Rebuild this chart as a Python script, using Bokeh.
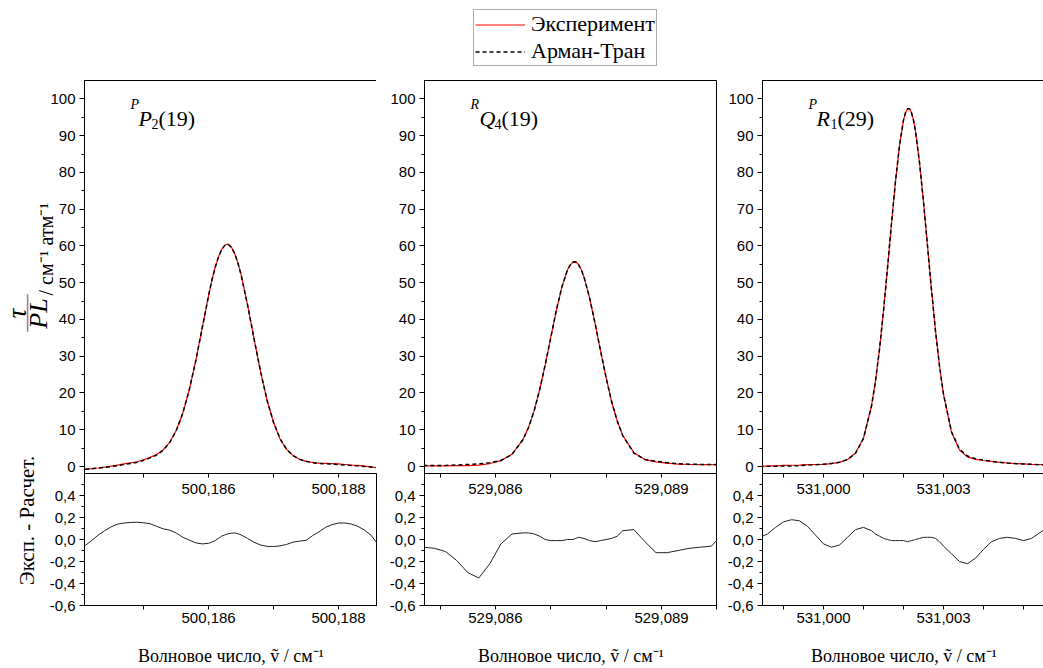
from math import pi

from bokeh.embed import file_html
from bokeh.layouts import column, row
from bokeh.models import (ColumnDataSource, CustomJSTickFormatter, FixedTicker, Label,
                          Legend, LegendItem, PolyAnnotation, Range1d)
from bokeh.plotting import figure
from bokeh.resources import INLINE

# ---------------------------------------------------------------- data
# line PP2(19)
pp2_wn = [500.1841, 500.1842, 500.1843, 500.1844, 500.1845, 500.1846, 500.1847, 500.1848,
          500.1849, 500.1850, 500.1851, 500.1852, 500.1853, 500.1854, 500.1855, 500.1856,
          500.1857, 500.1858, 500.1859, 500.1860, 500.18605, 500.1861, 500.18615, 500.1862,
          500.18625, 500.1863, 500.18635, 500.1864, 500.18645, 500.1865, 500.1866,
          500.1867, 500.1868, 500.1869, 500.1870, 500.1871, 500.1872, 500.1873, 500.1874,
          500.1875, 500.1876, 500.1877, 500.1878, 500.1879, 500.1880, 500.1881, 500.1882,
          500.1883, 500.1884, 500.1885, 500.1886]
pp2_exp = [-0.8, -0.6, -0.4, -0.15, 0.1, 0.4, 0.7, 1.0, 1.3, 1.85, 2.5, 3.25, 4.5, 6.55,
           9.75, 14.35, 20.7, 28.5, 37.5, 46.45, 50.6, 54.1, 56.9, 59.0, 60.2, 60.5, 59.7,
           58.05, 55.5, 52.2, 43.95, 34.7, 25.8, 18.0, 11.95, 7.5, 4.65, 2.95, 1.95, 1.4,
           1.1, 0.9, 0.85, 0.8, 0.7, 0.55, 0.4, 0.3, 0.1, -0.1, -0.35]
pp2_res = [-0.055, -0.01, 0.04, 0.08, 0.115, 0.14, 0.15, 0.155, 0.157, 0.152, 0.143, 0.12,
           0.097, 0.085, 0.06, 0.021, -0.005, -0.03, -0.04, -0.035, -0.024, -0.01, 0.01,
           0.03, 0.042, 0.052, 0.057, 0.06, 0.053, 0.042, 0.01, -0.025, -0.05, -0.062,
           -0.064, -0.058, -0.045, -0.024, -0.015, -0.008, 0.035, 0.07, 0.11, 0.135, 0.15,
           0.15, 0.14, 0.12, 0.085, 0.04, -0.04]

# line RQ4(19)
rq4_wn = [529.0847, 529.0849, 529.0851, 529.0853, 529.0855, 529.0857, 529.0859, 529.0861,
          529.0863, 529.0865, 529.0866, 529.0867, 529.0868, 529.0869, 529.0870, 529.0871,
          529.0872, 529.0873, 529.08735, 529.0874, 529.08745, 529.0875, 529.08755,
          529.0876, 529.0877, 529.0878, 529.0879, 529.0880, 529.0881, 529.0882, 529.0883,
          529.0885, 529.0887, 529.0889, 529.0891, 529.0893, 529.0895, 529.0897, 529.0899,
          529.0901]
rq4_exp = [0.2, 0.2, 0.2, 0.22, 0.25, 0.37, 0.81, 1.6, 3.34, 7.4, 10.74, 15.2, 20.95, 27.7,
           35.1, 42.45, 48.8, 53.45, 54.8, 55.6, 55.7, 54.95, 53.6, 51.5, 45.95, 38.9, 31.35,
           24.1, 17.55, 12.4, 8.43, 3.76, 1.89, 1.28, 0.93, 0.65, 0.55, 0.5, 0.5, 0.5]
rq4_res = [-0.07, -0.08, -0.11, -0.19, -0.3, -0.35, -0.22, -0.04, 0.05, 0.06, 0.06, 0.05,
           0.03, 0.0, -0.01, -0.01, -0.01, 0.0, 0.0, 0.0, 0.01, 0.02, 0.015, 0.01, -0.01,
           -0.02, -0.01, 0.0, 0.01, 0.03, 0.08, 0.09, -0.02, -0.12, -0.12, -0.1, -0.08,
           -0.07, -0.06, 0.05]

# line PR1(29)
pr1_wn = [530.9984, 530.9986, 530.9988, 530.9990, 530.9992, 530.9994, 530.9996, 530.9998,
          531.0000, 531.0002, 531.0004, 531.0006, 531.0008, 531.0010, 531.0012, 531.0013,
          531.0014, 531.0015, 531.0016, 531.0017, 531.0018, 531.0019, 531.0020, 531.00205,
          531.0021, 531.00215, 531.0022, 531.00225, 531.0023, 531.0024, 531.0025, 531.0026,
          531.0027, 531.0028, 531.0029, 531.0030, 531.0032, 531.0034, 531.0036, 531.0038,
          531.0040, 531.0042, 531.0044, 531.0046, 531.0048, 531.0050, 531.0052, 531.0054,
          531.0056]
pr1_exp = [0.0, 0.1, 0.2, 0.3, 0.35, 0.4, 0.5, 0.55, 0.6, 0.78, 1.13, 1.9, 3.69, 7.76, 16.5,
           23.3, 31.9, 42.35, 54.0, 66.1, 77.6, 87.3, 94.2, 96.2, 97.3, 97.3, 96.2, 94.2,
           91.2, 82.7, 72.0, 60.0, 48.05, 36.9, 27.35, 19.6, 9.33, 4.5, 2.62, 1.94, 1.64,
           1.4, 1.15, 0.95, 0.8, 0.7, 0.6, 0.55, 0.5]
pr1_res = [0.02, 0.05, 0.11, 0.16, 0.18, 0.17, 0.12, 0.04, -0.04, -0.07, -0.05, 0.02, 0.09,
           0.11, 0.08, 0.05, 0.03, 0.01, 0.0, -0.01, -0.01, -0.01, -0.01, -0.015, -0.02,
           -0.015, -0.01, -0.005, 0.0, 0.01, 0.02, 0.02, 0.02, 0.01, -0.02, -0.06, -0.13,
           -0.2, -0.22, -0.17, -0.09, -0.02, 0.01, 0.02, 0.01, -0.01, 0.01, 0.06, 0.11]

# axis ticks
y_ticks = [0, 10, 20, 30, 40, 50, 60, 70, 80, 90, 100]
y_minor = [5, 15, 25, 35, 45, 55, 65, 75, 85, 95]
res_ticks = [-0.6, -0.4, -0.2, 0.0, 0.2, 0.4]
res_minor = [-0.5, -0.3, -0.1, 0.1, 0.3, 0.5]

pp2_ticks, pp2_minor = [500.186, 500.188], [500.185, 500.187]
rq4_ticks, rq4_minor = [529.086, 529.089], [529.085, 529.087, 529.088, 529.090]
pr1_ticks, pr1_minor = [531.000, 531.003], [530.999, 531.001, 531.002, 531.004, 531.005]

SERIF = "Liberation Serif"
SANS = "Liberation Sans"

TOP_H, RES_H = 393, 132
TOP_Y = (-1.9, 105.0)
RES_Y = (-0.6, 0.6)


def style(p, xticks, xminor, yticks, yminor, ydigits):
    p.grid.visible = False
    p.outline_line_color = "black"
    p.outline_line_width = 1
    p.background_fill_color = None
    p.border_fill_color = None
    for ax in p.axis:
        ax.axis_line_color = "black"
        ax.major_tick_line_color = "black"
        ax.minor_tick_line_color = "black"
        ax.major_tick_in = 0
        ax.minor_tick_in = 0
        ax.major_label_text_font = SANS
        ax.major_label_text_font_size = "15px"
        ax.major_label_text_color = "black"
    p.xaxis.ticker = FixedTicker(ticks=xticks, minor_ticks=xminor)
    p.xaxis.formatter = CustomJSTickFormatter(code="return tick.toFixed(3).replace('.', ',');")
    p.xaxis.major_tick_out = 4
    p.xaxis.minor_tick_out = 4
    p.yaxis.ticker = FixedTicker(ticks=yticks, minor_ticks=yminor)
    p.yaxis.formatter = CustomJSTickFormatter(
        code="return tick.toFixed(%d).replace('.', ',');" % ydigits)
    p.yaxis.major_tick_out = 5
    p.yaxis.minor_tick_out = 3
    p.yaxis.major_label_standoff = 4


def title_parts(p, parts):
    # parts: (text, size_px, dx, dy, italic), offsets from a point near the frame's upper-left
    for text, size, dx, dy, italic in parts:
        p.add_layout(Label(x=46 + dx, y=TOP_H - 38 + dy, x_units="screen", y_units="screen",
                           text=text, text_font=SERIF, text_font_size="%dpx" % size,
                           text_font_style="italic" if italic else "normal",
                           text_color="black", text_baseline="alphabetic", text_align="left"))


def panel(wn, exp, res, xr, xt, xm, left, fw, parts):
    calc = [e - r for e, r in zip(exp, res)]
    src = ColumnDataSource(dict(wn=wn, exp=exp, calc=calc, res=res))

    top = figure(frame_width=fw, frame_height=TOP_H, x_range=Range1d(*xr), y_range=Range1d(*TOP_Y),
                 output_backend="svg", toolbar_location=None, min_border_left=left,
                 min_border_right=0, min_border_top=8, min_border_bottom=40)
    top.line("wn", "exp", source=src, line_color="#ff0000", line_width=1.2)
    top.line("wn", "calc", source=src, line_color="black", line_width=1.5, line_dash="4 3")
    style(top, xt, xm, y_ticks, y_minor, 0)
    top.xaxis.major_label_standoff = 6
    title_parts(top, parts)

    bot = figure(frame_width=fw, frame_height=RES_H, x_range=Range1d(*xr), y_range=Range1d(*RES_Y),
                 output_backend="svg", toolbar_location=None, min_border_left=left,
                 min_border_right=0, min_border_top=40, min_border_bottom=63,
                 margin=(-80, 0, 0, 0))
    bot.line("wn", "res", source=src, line_color="#222222", line_width=1)
    style(bot, xt, xm, res_ticks, res_minor, 1)
    bot.xaxis.major_label_standoff = 3
    bot.xaxis.axis_label = "Волновое число, ṽ / см⁻¹"
    bot.xaxis.axis_label_text_font = SERIF
    bot.xaxis.axis_label_text_font_style = "normal"
    bot.xaxis.axis_label_text_font_size = "18px"
    bot.xaxis.axis_label_text_color = "black"
    bot.xaxis.axis_label_standoff = 20
    return top, bot, src


t1, b1, src1 = panel(pp2_wn, pp2_exp, pp2_res, (500.18409, 500.1886), pp2_ticks, pp2_minor,
                     36, 293,
                     [("P", 14, 0, 14, True), ("P", 22, 8, 0, True), ("2", 14, 21, -5, False),
                      ("(19)", 22, 28, 0, False)])
t2, b2, _ = panel(rq4_wn, rq4_exp, rq4_res, (529.08472, 529.09001), rq4_ticks, rq4_minor,
                  47, 293,
                  [("R", 14, 0, 14, True), ("Q", 22, 9, 0, True), ("4", 14, 24, -5, False),
                   ("(19)", 22, 31, 0, False)])
t3, b3, _ = panel(pr1_wn, pr1_exp, pr1_res, (530.998475, 531.00555), pr1_ticks, pr1_minor,
                  45, 283,
                  [("P", 14, 0, 14, True), ("R", 22, 8, 0, True), ("1", 14, 22, -5, False),
                   ("(29)", 22, 29, 0, False)])

# strip on the left carrying the vertical axis titles; it tucks under the first column
side = figure(width=72, height=596, x_axis_type=None, y_axis_type=None, toolbar_location=None,
              output_backend="svg", min_border=0, outline_line_color=None,
              x_range=Range1d(0, 1), y_range=Range1d(0, 1), margin=(0, -26, 0, 0))
side.grid.visible = False
for text, x, y, size, italic, align, base in [
        ("τ", 16, 355, 27, True, "center", "middle"),
        ("PL", 38, 355, 26, True, "center", "middle"),
        ("/ см⁻¹ атм⁻¹", 45, 373, 20, False, "left", "alphabetic"),
        ("Эксп. - Расчет.", 26, 148, 21, False, "center", "middle")]:
    side.add_layout(Label(x=x, y=y, x_units="screen", y_units="screen", text=text, angle=pi / 2,
                          text_font=SERIF, text_font_size="%dpx" % size,
                          text_font_style="italic" if italic else "normal", text_color="black",
                          text_align=align, text_baseline=base))
side.add_layout(PolyAnnotation(xs=[26.5, 27.7, 27.7, 26.5], ys=[337, 337, 374, 374],
                               xs_units="screen", ys_units="screen", fill_color="black",
                               line_color="black", line_width=0.5))

# legend strip
hdr = figure(width=1043, height=72, x_axis_type=None, y_axis_type=None, toolbar_location=None,
             output_backend="svg", min_border=0, outline_line_color=None,
             x_range=Range1d(0, 1), y_range=Range1d(0, 1))
hdr.grid.visible = False
r_exp = hdr.line("wn", "exp", source=src1, line_color="#ff0000", line_width=1.2)
r_calc = hdr.line("wn", "calc", source=src1, line_color="black", line_width=1.5, line_dash="4 3")
legend = Legend(items=[LegendItem(label="Эксперимент", renderers=[r_exp]),
                       LegendItem(label="Арман-Тран", renderers=[r_calc])],
                location=(473, 6), label_text_font=SERIF, label_text_font_size="22px",
                label_text_color="black", border_line_color="#555555", border_line_width=1,
                padding=1, spacing=1, glyph_width=50, glyph_height=25, label_height=25,
                label_standoff=6, margin=0, background_fill_alpha=1)
hdr.add_layout(legend)

layout = column(hdr, row(side, column(t1, b1), column(t2, b2), column(t3, b3)))

with open("out.html", "w") as f:
    f.write(file_html(layout, INLINE))
